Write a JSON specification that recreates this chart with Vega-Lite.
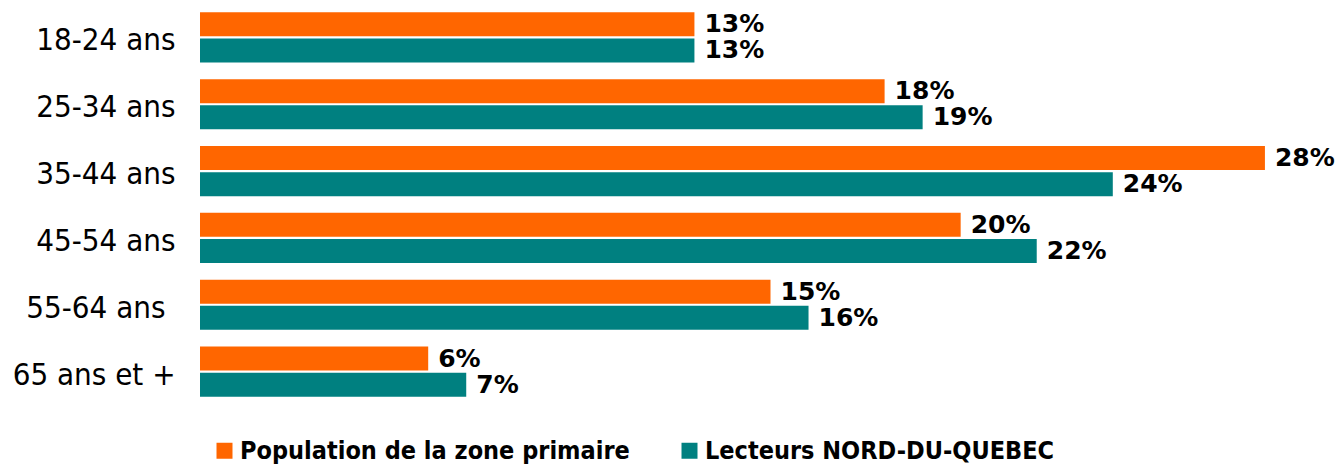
{
  "$schema": "https://vega.github.io/schema/vega-lite/v6.json",
  "autosize": {"type": "none"},
  "padding": {"left": 200, "top": 4, "right": 0, "bottom": 61},
  "width": 1141,
  "height": 401,
  "background": "white",
  "data": {
    "values": [
      {"age": "18-24 ans", "serie": "Population de la zone primaire", "pct": 0.13},
      {"age": "18-24 ans", "serie": "Lecteurs NORD-DU-QUEBEC", "pct": 0.13},
      {"age": "25-34 ans", "serie": "Population de la zone primaire", "pct": 0.18},
      {"age": "25-34 ans", "serie": "Lecteurs NORD-DU-QUEBEC", "pct": 0.19},
      {"age": "35-44 ans", "serie": "Population de la zone primaire", "pct": 0.28},
      {"age": "35-44 ans", "serie": "Lecteurs NORD-DU-QUEBEC", "pct": 0.24},
      {"age": "45-54 ans", "serie": "Population de la zone primaire", "pct": 0.20},
      {"age": "45-54 ans", "serie": "Lecteurs NORD-DU-QUEBEC", "pct": 0.22},
      {"age": "55-64 ans", "serie": "Population de la zone primaire", "pct": 0.15},
      {"age": "55-64 ans", "serie": "Lecteurs NORD-DU-QUEBEC", "pct": 0.16},
      {"age": "65 ans et +", "serie": "Population de la zone primaire", "pct": 0.06},
      {"age": "65 ans et +", "serie": "Lecteurs NORD-DU-QUEBEC", "pct": 0.07}
    ]
  },
  "encoding": {
    "y": {
      "field": "age", "type": "nominal", "sort": null, "title": null,
      "scale": {"paddingInner": 0.25, "paddingOuter": 0.125},
      "axis": {
        "domain": false, "ticks": false, "labelOffset": 4,
        "labelPadding": {"condition": {"test": "datum.value === '55-64 ans'", "value": 35}, "value": 25},
        "labelFont": "DejaVu Sans Condensed", "labelFontSize": 31,
        "labelColor": "#000000", "labelLimit": 300
      }
    },
    "yOffset": {
      "field": "serie", "type": "nominal",
      "sort": ["Population de la zone primaire", "Lecteurs NORD-DU-QUEBEC"],
      "scale": {"paddingInner": 0.08, "paddingOuter": 0}
    },
    "x": {
      "field": "pct", "type": "quantitative",
      "scale": {"domain": [0, 0.3], "nice": false},
      "axis": null
    }
  },
  "layer": [
    {
      "mark": {"type": "bar"},
      "encoding": {
        "color": {
          "field": "serie", "type": "nominal",
          "scale": {
            "domain": ["Population de la zone primaire", "Lecteurs NORD-DU-QUEBEC"],
            "range": ["#FF6600", "#008080"]
          },
          "legend": {
            "orient": "none", "direction": "horizontal", "title": null,
            "legendX": 12, "legendY": 434,
            "symbolType": "square", "symbolSize": 256, "symbolStrokeWidth": 0,
            "labelFont": "DejaVu Sans Condensed", "labelFontSize": 25,
            "labelFontWeight": "bold", "labelColor": "#000000",
            "labelOffset": 3, "columnPadding": 47, "labelLimit": 600,
            "padding": 0
          }
        }
      }
    },
    {
      "mark": {
        "type": "text", "align": "left", "baseline": "middle", "dx": 10,
        "font": "DejaVu Sans", "fontSize": 25, "fontWeight": "bold", "color": "#000000"
      },
      "encoding": {
        "text": {"field": "pct", "type": "quantitative", "format": ".0%"}
      }
    }
  ],
  "config": {"view": {"stroke": null}}
}
